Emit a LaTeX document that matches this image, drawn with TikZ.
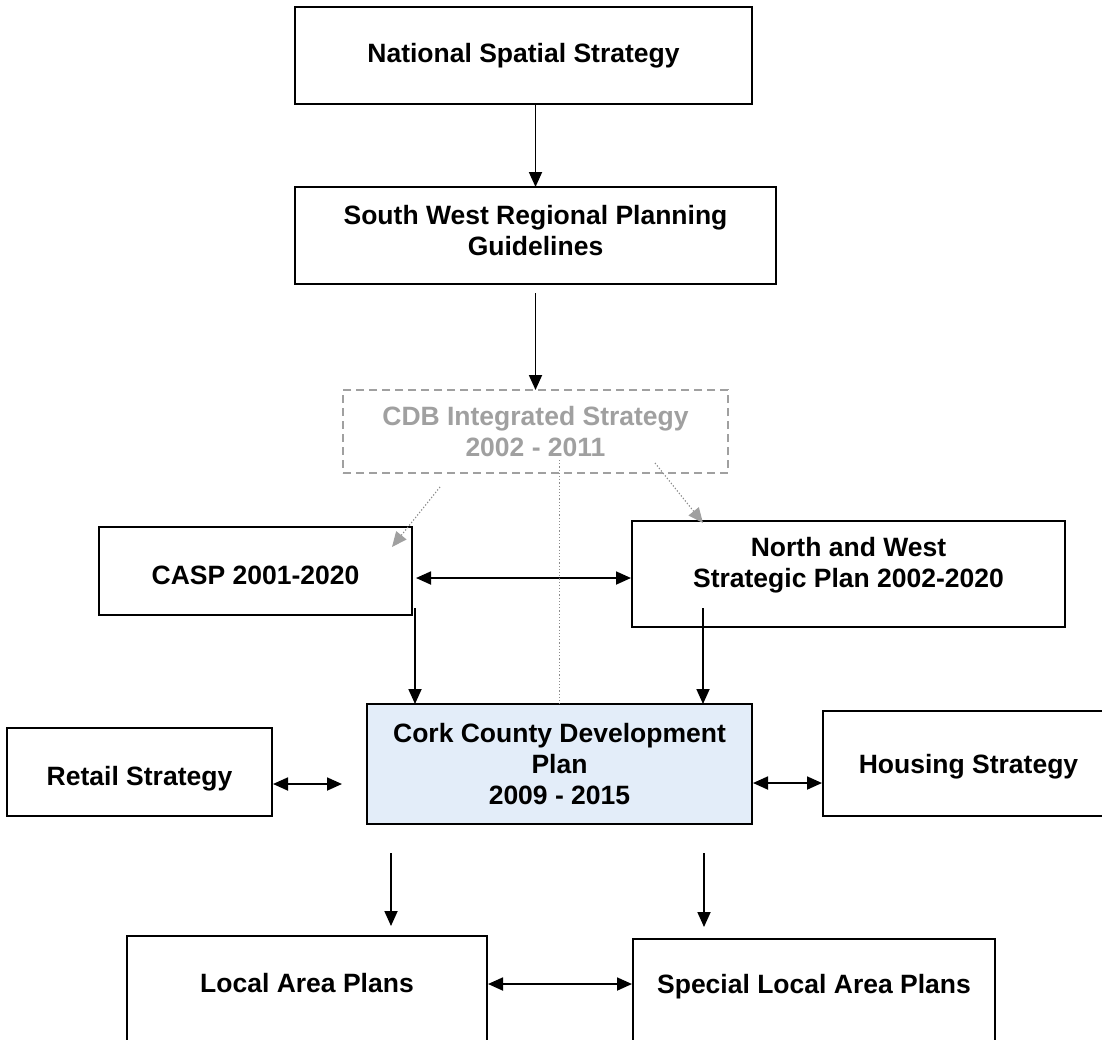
\documentclass[tikz,border=0pt]{standalone}
\usepackage{fontspec}
\setmainfont{Liberation Sans}
\usetikzlibrary{arrows.meta,calc}
\definecolor{cdbgray}{RGB}{160,160,160}
\definecolor{dotgray}{RGB}{140,140,140}
\definecolor{corkfill}{RGB}{227,237,249}
\begin{document}
\begin{tikzpicture}[x=1pt,y=-1pt,
  box/.style={draw=black,line width=2.4pt,rectangle,inner sep=0pt,outer sep=0pt,align=center,
    font=\fontsize{26.5}{31}\selectfont\bfseries},
  lbl/.style={inner sep=0pt,align=center,font=\fontsize{26.5}{31}\selectfont\bfseries},
  arr/.style={line width=1.8pt,-{Triangle[length=15pt,width=13pt]}},
  darr/.style={line width=1.8pt,{Triangle[length=15pt,width=13pt]}-{Triangle[length=15pt,width=13pt]}},
  dotarr/.style={dotgray,line width=1.2pt,dotted,-{Triangle[length=15pt,width=13pt,color=cdbgray]}},
  dotline/.style={dotgray,line width=1.2pt,dotted}]
\useasboundingbox (0,0) rectangle (1102,1039);
\clip (0,0) rectangle (1102,1039);
\fill[white] (0,0) rectangle (1102,1039);

% boxes
\node[box,minimum width=457pt,minimum height=97pt] (nss) at (523.5,55.5) {National Spatial Strategy};
\node[box,minimum width=481pt,minimum height=97pt,
  label={[lbl,yshift=4.5pt]center:South West Regional Planning\\Guidelines}] (sw) at (535.5,235.5) {};
\node[box,draw=cdbgray,dashed,dash pattern=on 8pt off 5pt,text=cdbgray,
  minimum width=385pt,minimum height=83pt] (cdb) at (535.5,431.5) {CDB Integrated Strategy\\2002 - 2011};
\node[box,minimum width=313pt,minimum height=88pt,
  label={[lbl,yshift=-4pt]center:CASP 2001-2020}] (casp) at (255.5,571) {};
\node[box,minimum width=433pt,minimum height=106pt,
  label={[lbl,yshift=9pt]center:North and West\\Strategic Plan 2002-2020}] (nw) at (848.5,574) {};
\node[box,fill=corkfill,minimum width=385pt,minimum height=120pt] (cork) at (559.5,764) {Cork County Development\\Plan\\2009 - 2015};
\node[box,minimum width=265pt,minimum height=88pt,
  label={[lbl,yshift=-7pt]center:Retail Strategy}] (retail) at (139.5,772) {};
\node[box,minimum width=291pt,minimum height=105pt,
  label={[lbl,yshift=-3pt]center:Housing Strategy}] (housing) at (968.5,763.5) {};
\node[box,minimum width=360pt,minimum height=140pt,
  label={[lbl,yshift=23pt]center:Local Area Plans}] (local) at (307,1006) {};
\node[box,minimum width=362pt,minimum height=140pt,
  label={[lbl,yshift=22pt]center:Special Local Area Plans}] (special) at (814,1009) {};

% free ends of connectors
\coordinate (c1) at (415,608);
\coordinate (c2) at (703,608);
\coordinate (c3) at (391,853);
\coordinate (c4) at (704,853);
\coordinate (c5) at (559.5,460);

% connectors
\draw[arr] ([xshift=12pt]nss.south) -- (sw.north);
\draw[arr] ([yshift=-9pt]sw.south) -- (cdb.north);
\draw[darr] ([shift={(4pt,-7pt)}]casp.east) -- ([shift={(-1pt,-4pt)}]nw.west);
\draw[arr] (c1) -- (c1 |- cork.north);
\draw[arr] (c2) -- (c2 |- cork.north);
\draw[dotline] (c5) -- (cork.north);
\draw[dotarr] ($(cdb.south west)+(97,14)$) -- ($(casp.north east)+(-20,20)$);
\draw[dotarr] ($(cdb.south east)+(-73,-10)$) -- ($(nw.north west)+(71,2)$);
\draw[darr] ($(retail.east)+(1,12)$) -- ($(cork.west)+(-25,20)$);
\draw[darr] ($(cork.east)+(1,19)$) -- ($(housing.west)+(-1,19.5)$);
\draw[arr] (c3) -- ([yshift=10pt]c3 |- local.north);
\draw[arr] (c4) -- ([yshift=12pt]c4 |- special.north);
\draw[darr] ($(local.east)+(1,-22)$) -- ($(special.west)+(-1,-25)$);
\end{tikzpicture}
\end{document}
